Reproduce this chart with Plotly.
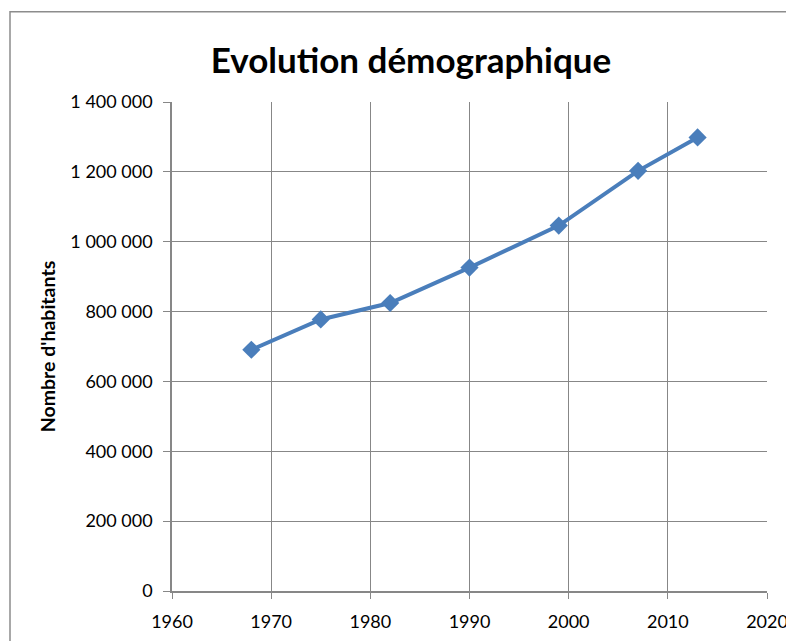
import plotly.graph_objects as go

years = [1968, 1975, 1982, 1990, 1999, 2007, 2013]
population = [690712, 777431, 824501, 925962, 1046338, 1202889, 1298562]

y_ticks = [0, 200000, 400000, 600000, 800000, 1000000, 1200000, 1400000]
y_labels = ["0", "200 000", "400 000", "600 000", "800 000", "1 000 000", "1 200 000", "1 400 000"]
x_ticks = [1960, 1970, 1980, 1990, 2000, 2010, 2020]

# page body has an 8px margin, so the figure is drawn 8px smaller and offset
OFF = 8
W, H = 794 - OFF, 641 - OFF
L, R, T, B = 172 - OFF, 27, 101.5 - OFF, 49.5
pw, ph = W - L - R, H - T - B

def px_x(p):
    return (p - OFF - L) / pw

def px_y(p):
    return (H - B - (p - OFF)) / ph

fig = go.Figure()
fig.add_trace(go.Scatter(
    x=years, y=population, mode="lines+markers",
    line=dict(color="#4A7EBB", width=4),
    marker=dict(symbol="diamond", size=14, color="#4A7EBB"),
    showlegend=False,
))

grid = "#878787"
fig.update_layout(
    width=W, height=H,
    margin=dict(l=L, r=R, t=T, b=B),
    paper_bgcolor="white", plot_bgcolor="white",
    font=dict(family="Lato", color="black"),
    title=dict(text="<b>Evolution démographique</b>", font=dict(size=35, family="Lato", color="black"),
               x=px_x(411), xref="paper", xanchor="center", y=1 - (61 - OFF) / H, yanchor="middle"),
    xaxis=dict(range=[1960, 2020], tickvals=x_ticks, showgrid=True, gridcolor=grid, gridwidth=1,
               showline=True, linecolor=grid, linewidth=1.5, mirror=False, automargin=False,
               ticks="outside", ticklen=6, tickcolor=grid, tickfont=dict(size=18, family="Lato"),
               ticklabelstandoff=8, zeroline=False),
    yaxis=dict(range=[0, 1400000], tickvals=y_ticks, ticktext=y_labels, showgrid=True, gridcolor=grid,
               gridwidth=1, showline=True, linecolor=grid, linewidth=1.5, automargin=False,
               ticks="outside", ticklen=7, tickcolor=grid, tickfont=dict(size=18, family="Lato"),
               ticklabelstandoff=7, zeroline=False,
               title=dict(text="<b>Nombre d'habitants</b>", font=dict(size=19.5, family="Lato"), standoff=10)),
    shapes=[dict(type="rect", xref="paper", yref="paper",
                 x0=px_x(10), y0=px_y(700), x1=px_x(900), y1=px_y(11),
                 line=dict(color="#8c8c8c", width=1.5), fillcolor="rgba(0,0,0,0)", layer="below")],
)

fig.write_html("out.html")
